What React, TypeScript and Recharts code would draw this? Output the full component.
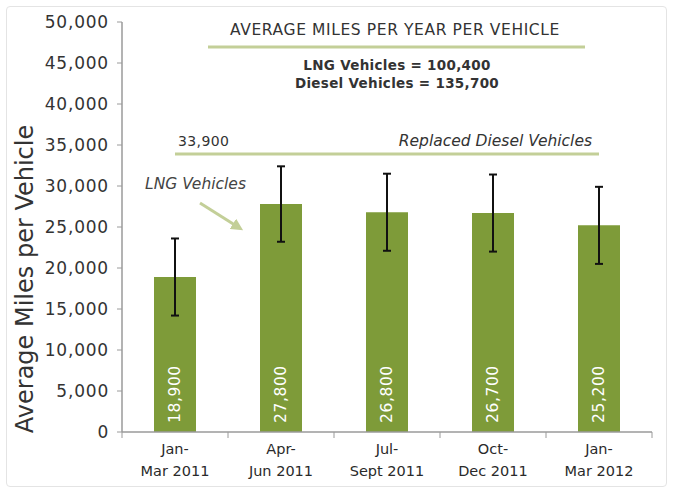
import React from 'react';
import { BarChart, Bar, XAxis, YAxis, ErrorBar, LabelList, ReferenceLine } from 'recharts';

const categories = ['Jan-Mar 2011', 'Apr-Jun 2011', 'Jul-Sept 2011', 'Oct-Dec 2011', 'Jan-Mar 2012'];
const lngMiles = [18900, 27800, 26800, 26700, 25200];
const errors = [4700, 4600, 4700, 4700, 4700];
const yTicks = [0, 5000, 10000, 15000, 20000, 25000, 30000, 35000, 40000, 45000, 50000];
const replacedDiesel = 33900;
const lngYear = '100,400';
const dieselYear = '135,700';

const data = categories.map((c, i) => ({ cat: c, miles: lngMiles[i], err: errors[i] }));

const W = 673;
const H = 493;
const M = { top: 22, right: 21, bottom: 11, left: 0 };
const Y_W = 122;
const X_H = 50;
const PLOT_LEFT = M.left + Y_W;
const PLOT_RIGHT = W - M.right;
const PLOT_BOTTOM = H - M.bottom - X_H;
const BAND = (PLOT_RIGHT - PLOT_LEFT) / categories.length;

const FONT = '"DejaVu Sans", Verdana, sans-serif';
const BAR = '#7e9b39';
const LINE = '#c3cf98';
const TXT = '#333333';

const fmt = (v: number) => v.toLocaleString('en-US');

const XTick = (props: any) => {
  const { x, payload, index } = props;
  const s: string = payload.value;
  const i = s.indexOf('-');
  const top = s.slice(0, i + 1);
  const bottom = s.slice(i + 1);
  return (
    <g>
      <line x1={x - BAND / 2} x2={x - BAND / 2} y1={PLOT_BOTTOM} y2={PLOT_BOTTOM + 6} stroke="#9a9a9a" />
      {index === categories.length - 1 && (
        <line x1={x + BAND / 2} x2={x + BAND / 2} y1={PLOT_BOTTOM} y2={PLOT_BOTTOM + 6} stroke="#9a9a9a" />
      )}
      <text x={x} y={PLOT_BOTTOM + 22} textAnchor="middle" fontFamily={FONT} fontSize={14.5} fill="#2a2a2a">{top}</text>
      <text x={x} y={PLOT_BOTTOM + 44} textAnchor="middle" fontFamily={FONT} fontSize={14.5} fill="#2a2a2a">{bottom}</text>
    </g>
  );
};

const BarValue = (props: any) => {
  const { x, y, width, height, value } = props;
  const cx = x + width / 2;
  const by = y + height - 9;
  return (
    <text
      x={cx}
      y={by}
      transform={`rotate(-90 ${cx} ${by})`}
      textAnchor="start"
      dominantBaseline="central"
      fontFamily={FONT}
      fontSize={15.5}
      letterSpacing={0.6}
      fill="#ffffff"
    >
      {fmt(value)}
    </text>
  );
};

const YLabel = (props: any) => {
  const vb = props.viewBox || {};
  const cx = (vb.x ?? 0) + 25;
  const cy = (vb.y ?? 0) + (vb.height ?? 0) / 2 + 52;
  return (
    <text
      x={cx}
      y={cy}
      transform={`rotate(-90 ${cx} ${cy})`}
      textAnchor="middle"
      dominantBaseline="central"
      fontFamily={FONT}
      fontSize={24}
      fill={TXT}
    >
      Average Miles per Vehicle
    </text>
  );
};

const DieselLineLabel = (props: any) => {
  const vb = props.viewBox || {};
  const x1 = vb.x ?? 0;
  const y = vb.y ?? 0;
  const w = vb.width ?? 0;
  return (
    <g>
      <text x={x1 + 3} y={y - 8} fontFamily={FONT} fontSize={14} letterSpacing={0.4} fill={TXT}>{fmt(replacedDiesel)}</text>
      <text x={x1 + w - 7} y={y - 8} textAnchor="end" fontFamily={FONT} fontSize={15.5} fontStyle="italic" fill={TXT}>
        Replaced Diesel Vehicles
      </text>
    </g>
  );
};

export default function App() {
  return (
    <div style={{ position: 'absolute', left: 0, top: 0, width: W, height: H, background: '#fff' }}>
      <div
        style={{
          position: 'absolute',
          left: 6,
          top: 6,
          width: W - 12,
          height: H - 12,
          border: '1px solid #e4e4e4',
          borderRadius: 4,
          boxSizing: 'border-box',
        }}
      />
      <div style={{ position: 'absolute', left: 0, top: 0 }}>
        <BarChart width={W} height={H} data={data} margin={M} barCategoryGap={0}>
          <XAxis
            dataKey="cat"
            height={X_H}
            interval={0}
            tickLine={false}
            axisLine={{ stroke: '#9a9a9a', strokeWidth: 1.5 }}
            tick={<XTick />}
          />
          <YAxis
            width={Y_W}
            domain={[0, 50000]}
            ticks={yTicks}
            tickFormatter={fmt}
            tickSize={5}
            tickMargin={8}
            axisLine={{ stroke: '#9a9a9a', strokeWidth: 1.5 }}
            tickLine={{ stroke: '#9a9a9a' }}
            tick={{ fontFamily: FONT, fontSize: 17, fill: TXT, letterSpacing: 0.8 }}
            label={<YLabel />}
          />
          <ReferenceLine
            segment={[
              { x: categories[0], y: replacedDiesel },
              { x: categories[categories.length - 1], y: replacedDiesel },
            ]}
            stroke={LINE}
            strokeWidth={3}
            label={<DieselLineLabel />}
          />
          <Bar dataKey="miles" fill={BAR} barSize={42} isAnimationActive={false}>
            <ErrorBar dataKey="err" width={4} strokeWidth={2} stroke="#111" direction="y" />
            <LabelList dataKey="miles" content={<BarValue />} />
          </Bar>
        </BarChart>
      </div>
      <svg
        width={W}
        height={H}
        style={{ position: 'absolute', left: 0, top: 0, pointerEvents: 'none' }}
      >
        <defs>
          <marker id="arrowHead" markerWidth="4" markerHeight="4" refX="2" refY="2" orient="auto" markerUnits="strokeWidth">
            <path d="M0,0 L4,2 L0,4 Z" fill={LINE} />
          </marker>
        </defs>
        <text x={395} y={35} textAnchor="middle" fontFamily={FONT} fontSize={15.5} letterSpacing={0.6} fill={TXT}>
          AVERAGE MILES PER YEAR PER VEHICLE
        </text>
        <line x1={208} x2={585} y1={47} y2={47} stroke={LINE} strokeWidth={3} />
        <text x={397} y={70} textAnchor="middle" fontFamily={FONT} fontSize={13.5} fontWeight="bold" letterSpacing={0.3} fill={TXT}>
          {`LNG Vehicles = ${lngYear}`}
        </text>
        <text x={397} y={88} textAnchor="middle" fontFamily={FONT} fontSize={13.5} fontWeight="bold" letterSpacing={0.3} fill={TXT}>
          {`Diesel Vehicles = ${dieselYear}`}
        </text>
        <text x={145} y={189} fontFamily={FONT} fontSize={15.5} fontStyle="italic" fill="#444">
          LNG Vehicles
        </text>
        <line x1={200} y1={203} x2={238} y2={227} stroke={LINE} strokeWidth={3} markerEnd="url(#arrowHead)" />
      </svg>
    </div>
  );
}
